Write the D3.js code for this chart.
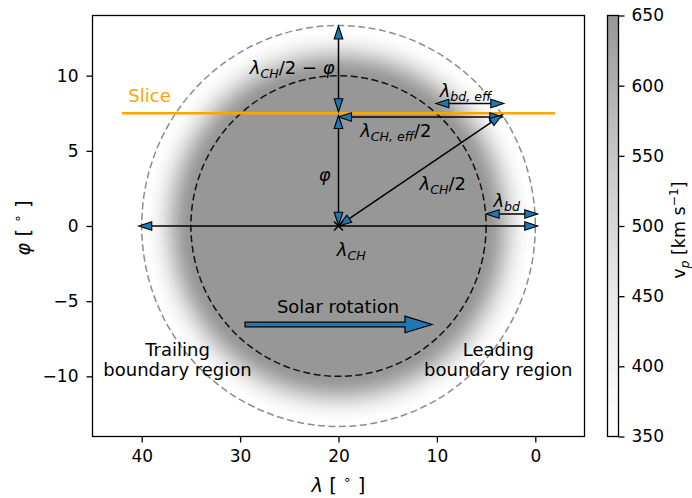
<!DOCTYPE html>
<html><head><meta charset="utf-8">
<script src="https://cdn.jsdelivr.net/npm/d3@7"></script>
<style>
body{margin:0;background:#fff}
svg{display:block;font-family:"DejaVu Sans",sans-serif}
text{white-space:pre}
</style>
</head><body><div id="chart"></div>
<script>
// ---------- data ----------
const xTicks = [40, 30, 20, 10, 0];
const yTicks = [-10, -5, 0, 5, 10];
const cbTicks = [350, 400, 450, 500, 550, 600, 650];
const xDomain = [45, -5];
const yDomain = [-14, 14];
const vDomain = [350, 650];
const chCenter = [20, 0];
const chHalfLon = 15;     // λ_CH/2
const chHalfLat = 10;
const bdWidth = 5;        // λ_bd
const sliceLat = 7.5;
const sliceLon = [42, -2];
// annotation arrows
const arrowFrom = [[20, 7.6], [20, 0.05], [20, 7.25], [20, 0], [10.1, 8.15], [5.0, 0.8], [20, 0], [20, 0]];
const arrowTo   = [[20, 13.3], [20, 7.35], [3.3, 7.25], [3.35, 7.4], [3.2, 8.15], [-0.25, 0.8], [40.3, 0], [-0.25, 0]];
const arrowBoth = [true, true, true, true, true, true, false, false];
const rotationArrow = [[29.5, -6.55], [10.5, -6.55]];
const textLabels = [
  {pos:[20.4, 10.1], anchor:'end', parts:[['λ','i'],['CH','ib'],['/2 − ',''],['φ','i']]},
  {pos:[21.4, 3.0], anchor:'middle', parts:[['φ','i']]},
  {pos:[17.8, 5.95], anchor:'start', parts:[['λ','i'],['CH, eff','ib'],['/2','']]},
  {pos:[9.4, 2.4], anchor:'middle', parts:[['λ','i'],['CH','ib'],['/2','']]},
  {pos:[7.1, 8.58], anchor:'middle', parts:[['λ','i'],['bd, eff','ib']]},
  {pos:[2.9, 1.28], anchor:'middle', parts:[['λ','i'],['bd','ib']]},
  {pos:[18.7, -2.0], anchor:'middle', parts:[['λ','i'],['CH','ib']]},
  {pos:[20.05, -5.78], anchor:'middle', parts:[['Solar rotation','']]}
];
const regionLabels = [
  {pos:[36.36, -8.62], lines:['Trailing', 'boundary region']},
  {pos:[3.76, -8.62], lines:['Leading', 'boundary region']}
];
const sliceLabel = {pos:[41.36, 8.26], text:'Slice'};

// ---------- setup ----------
const W = 692, H = 498;
const P = {l:92.5, r:584.5, t:15.5, b:436.5};
const CB = {l:607.5, r:618.5};
const svg = d3.select('#chart').append('svg').attr('width', W).attr('height', H);
const x = d3.scaleLinear().domain(xDomain).range([P.l, P.r]);
const y = d3.scaleLinear().domain(yDomain).range([P.b, P.t]);
const vScale = d3.scaleLinear().domain(vDomain).range([0, 0.5]);
const cmap = v => d3.interpolateGreys(vScale(v));
const BLUE = '#1f77b4', ORANGE = '#ffa500';

function mtext(g, px, py, parts, o = {}) {
  const size = o.size || 18;
  const t = g.append('text').attr('x', px).attr('y', py)
    .attr('font-size', size).attr('text-anchor', o.anchor || 'start')
    .attr('fill', o.fill || '#000');
  if (o.rotate) t.attr('transform', `rotate(${o.rotate},${px},${py})`);
  let cur = 0;
  parts.forEach(([s, st]) => {
    let off = 0, fs = size;
    if (st.includes('b')) { off = size * 0.24; fs = size * 0.7; }
    if (st.includes('p')) { off = -size * 0.42; fs = size * 0.7; }
    const ts = t.append('tspan').text(s).attr('font-size', fs).attr('dy', off - cur);
    if (st.includes('i')) ts.attr('font-style', 'italic');
    cur = off;
  });
  return t;
}

const defs = svg.append('defs');
defs.append('clipPath').attr('id', 'clip').append('rect')
  .attr('x', P.l).attr('y', P.t).attr('width', P.r - P.l).attr('height', P.b - P.t);

// radial gradient for coronal hole + boundary region
const ratio = chHalfLon / (chHalfLon + bdWidth);
const rg = defs.append('radialGradient').attr('id', 'chgrad')
  .attr('cx', 0.5).attr('cy', 0.5).attr('r', 0.5);
rg.append('stop').attr('offset', 0).attr('stop-color', cmap(vDomain[1]));
d3.range(0, 1.0001, 0.05).forEach(s => {
  const v = vDomain[0] + (vDomain[1] - vDomain[0]) * 0.5 * (1 + Math.cos(Math.PI * s));
  rg.append('stop').attr('offset', ratio + (1 - ratio) * s).attr('stop-color', cmap(v));
});

const plot = svg.append('g').attr('clip-path', 'url(#clip)');
const outerLon = chHalfLon + bdWidth, outerLat = chHalfLat * outerLon / chHalfLon;
const cx = x(chCenter[0]), cy = y(chCenter[1]);
plot.append('ellipse').attr('cx', cx).attr('cy', cy)
  .attr('rx', Math.abs(x(outerLon) - x(0))).attr('ry', Math.abs(y(outerLat) - y(0)))
  .attr('fill', 'url(#chgrad)');
// dashed boundaries
plot.append('ellipse').attr('cx', cx).attr('cy', cy)
  .attr('rx', Math.abs(x(outerLon) - x(0))).attr('ry', Math.abs(y(outerLat) - y(0)))
  .attr('fill', 'none').attr('stroke', '#8c8c8c').attr('stroke-width', 1.5).attr('stroke-dasharray', '7,3.5');
plot.append('ellipse').attr('cx', cx).attr('cy', cy)
  .attr('rx', Math.abs(x(chHalfLon) - x(0))).attr('ry', Math.abs(y(chHalfLat) - y(0)))
  .attr('fill', 'none').attr('stroke', '#111').attr('stroke-width', 1.5).attr('stroke-dasharray', '7,3.5');

// slice
plot.append('line').attr('x1', x(sliceLon[0])).attr('x2', x(sliceLon[1]))
  .attr('y1', y(sliceLat)).attr('y2', y(sliceLat))
  .attr('stroke', ORANGE).attr('stroke-width', 2.5);
mtext(plot, x(sliceLabel.pos[0]), y(sliceLabel.pos[1]), [[sliceLabel.text, '']], {fill: ORANGE});

// annotation arrows
const HL = 13, HW = 4.3;
function head(g, tip, dir) {
  const [ux, uy] = dir, nx = -uy, ny = ux;
  const bx = tip[0] - ux * HL, by = tip[1] - uy * HL;
  g.append('path')
    .attr('d', `M${tip[0]},${tip[1]}L${bx + nx * HW},${by + ny * HW}L${bx - nx * HW},${by - ny * HW}Z`)
    .attr('fill', BLUE).attr('stroke', '#000').attr('stroke-width', 1.1).attr('stroke-linejoin', 'miter');
}
const ag = plot.append('g');
arrowFrom.forEach((f, i) => {
  const p0 = [x(f[0]), y(f[1])], p1 = [x(arrowTo[i][0]), y(arrowTo[i][1])];
  const dx = p1[0] - p0[0], dy = p1[1] - p0[1], L = Math.hypot(dx, dy);
  const u = [dx / L, dy / L];
  const s0 = arrowBoth[i] ? [p0[0] + u[0] * HL * 0.9, p0[1] + u[1] * HL * 0.9] : p0;
  const s1 = [p1[0] - u[0] * HL * 0.9, p1[1] - u[1] * HL * 0.9];
  ag.append('line').attr('x1', s0[0]).attr('y1', s0[1]).attr('x2', s1[0]).attr('y2', s1[1])
    .attr('stroke', '#000').attr('stroke-width', 1.5);
  head(ag, p1, u);
  if (arrowBoth[i]) head(ag, p0, [-u[0], -u[1]]);
});

// center marker
const mk = 4.5;
plot.append('path').attr('d', `M${cx - mk},${cy - mk}L${cx + mk},${cy + mk}M${cx - mk},${cy + mk}L${cx + mk},${cy - mk}`)
  .attr('stroke', '#000').attr('stroke-width', 1.5);

// solar rotation arrow
{
  const t0 = [x(rotationArrow[0][0]), y(rotationArrow[0][1])];
  const t1 = [x(rotationArrow[1][0]), y(rotationArrow[1][1])];
  const sw = 2.3, hw = 8.3, hl = 27;
  const hx = t1[0] - hl;
  plot.append('path')
    .attr('d', `M${t0[0]},${t0[1] - sw}L${hx},${t0[1] - sw}L${hx},${t0[1] - hw}L${t1[0]},${t1[1]}L${hx},${t0[1] + hw}L${hx},${t0[1] + sw}L${t0[0]},${t0[1] + sw}Z`)
    .attr('fill', BLUE).attr('stroke', '#000').attr('stroke-width', 1.2);
}

// labels
textLabels.forEach(l => mtext(plot, x(l.pos[0]), y(l.pos[1]), l.parts, {anchor: l.anchor}));
regionLabels.forEach(l => {
  l.lines.forEach((s, k) => {
    plot.append('text').attr('font-size', 18).attr('text-anchor', 'middle').attr('fill', '#000')
      .attr('x', x(l.pos[0])).attr('y', y(l.pos[1]) + k * 20).text(s);
  });
});

// frame
svg.append('rect').attr('x', P.l).attr('y', P.t).attr('width', P.r - P.l).attr('height', P.b - P.t)
  .attr('fill', 'none').attr('stroke', '#000').attr('stroke-width', 1.3);

// axes
function styleAxis(g) {
  g.select('.domain').remove();
  g.selectAll('.tick line').attr('stroke', '#000').attr('stroke-width', 1.3);
  g.selectAll('.tick text').attr('fill', '#000').attr('font-size', 17).attr('font-family', '"DejaVu Sans",sans-serif');
}
svg.append('g').attr('transform', `translate(0,${P.b})`)
  .call(d3.axisBottom(x).tickValues(xTicks).tickSize(6).tickPadding(7.5)).call(styleAxis);
svg.append('g').attr('transform', `translate(${P.l},0)`)
  .call(d3.axisLeft(y).tickValues(yTicks).tickSize(6).tickPadding(8)).call(styleAxis);

mtext(svg, (P.l + P.r) / 2, 492, [['λ','i'],[' [ ',''],['∘','p'],[' ]','']], {anchor:'middle', size:19.5});
mtext(svg, 30, (P.t + P.b) / 2 + 2, [['φ','i'],[' [ ',''],['∘','p'],[' ]','']], {anchor:'middle', rotate:-90, size:19.5});

// colorbar
const cbY = d3.scaleLinear().domain(vDomain).range([P.b, P.t]);
const lg = defs.append('linearGradient').attr('id', 'cbgrad').attr('x1', 0).attr('y1', 1).attr('x2', 0).attr('y2', 0);
d3.range(0, 1.0001, 0.1).forEach(t => {
  lg.append('stop').attr('offset', t).attr('stop-color', cmap(vDomain[0] + t * (vDomain[1] - vDomain[0])));
});
svg.append('rect').attr('x', CB.l).attr('y', P.t).attr('width', CB.r - CB.l).attr('height', P.b - P.t)
  .attr('fill', 'url(#cbgrad)').attr('stroke', '#000').attr('stroke-width', 1.3);
svg.append('g').attr('transform', `translate(${CB.r},0)`)
  .call(d3.axisRight(cbY).tickValues(cbTicks).tickSize(6).tickPadding(7)).call(styleAxis);
mtext(svg, 685, (P.t + P.b) / 2 + 4, [['v',''],['p','ib'],[' [km s',''],['−1','p'],[']','']], {anchor:'middle', rotate:-90, size:17.5});
</script>
</body></html>
